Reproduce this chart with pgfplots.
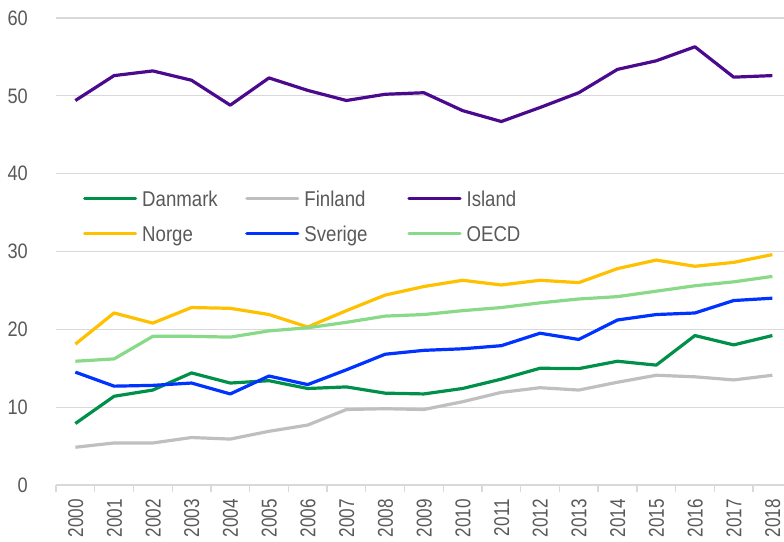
\documentclass[border=0pt]{standalone}
\usepackage{pgfplots}
\usepackage{pgfplotstable}
\pgfplotsset{compat=1.18}
\usepackage{fontspec}
\setmainfont{Liberation Sans}[FakeStretch=0.87]
\newfontfamily\xlabfont{Liberation Sans}[FakeStretch=0.8]
\definecolor{dk}{HTML}{00904A}
\definecolor{fi}{HTML}{BFBFBF}
\definecolor{is}{HTML}{4B0A8E}
\definecolor{no}{HTML}{FFC000}
\definecolor{se}{HTML}{0033FF}
\definecolor{oe}{HTML}{88DA88}
\definecolor{gridc}{HTML}{D9D9D9}
\definecolor{tickc}{HTML}{595959}
\pgfplotstableread{
x Danmark Finland Island Norge Sverige OECD
0  7.9  4.85 49.4 18.1 14.5 15.9
1  11.4 5.4  52.6 22.1 12.7 16.2
2  12.2 5.4  53.2 20.8 12.8 19.1
3  14.4 6.1  52.0 22.8 13.1 19.1
4  13.1 5.9  48.8 22.7 11.7 19.0
5  13.4 6.9  52.3 21.9 14.0 19.8
6  12.4 7.7  50.7 20.3 12.9 20.2
7  12.6 9.7  49.4 22.4 14.8 20.9
8  11.8 9.8  50.2 24.4 16.8 21.7
9  11.7 9.7  50.4 25.5 17.3 21.9
10 12.4 10.7 48.1 26.3 17.5 22.4
11 13.6 11.9 46.7 25.7 17.9 22.8
12 15.0 12.5 48.5 26.3 19.5 23.4
13 14.95 12.2 50.4 26.0 18.7 23.9
14 15.9 13.2 53.4 27.8 21.2 24.2
15 15.4 14.1 54.5 28.9 21.9 24.9
16 19.2 13.9 56.3 28.1 22.1 25.6
17 18.0 13.5 52.4 28.6 23.7 26.1
18 19.2 14.1 52.6 29.6 24.0 26.8
}\datatab
\begin{document}
\begin{tikzpicture}
\useasboundingbox (0,0) rectangle (784bp,542bp);
\clip (0,0) rectangle (784bp,542bp);
\begin{axis}[
  at={(56bp,57bp)}, anchor=south west,
  scale only axis, width=728bp, height=467bp,
  xmin=-0.5, xmax=18.3, ymin=0, ymax=60,
  ytick={0,10,...,60},
  ymajorgrids, grid style={draw=gridc, line width=1.3bp},
  xtick={0,...,18},
  xticklabels={2000,2001,2002,2003,2004,2005,2006,2007,2008,2009,2010,2011,2012,2013,2014,2015,2016,2017,2018},
  minor xtick={-0.5,0.5,...,17.5},
  axis x line*=bottom, axis y line*=left,
  y axis line style={draw=none},
  x axis line style={draw=gridc, line width=1.3bp, -},
  tick align=outside, major tick length=0pt, minor tick length=7bp,
  minor x tick style={draw=gridc, line width=1.3bp},
  y tick style={draw=none},
  xticklabel style={rotate=90, anchor=east, inner sep=0pt, text height=15.4bp, text depth=0pt, font=\xlabfont\fontsize{21.5}{26}\selectfont, text=tickc},
  xticklabel shift=14bp,
  yticklabel style={anchor=east, inner sep=0pt, font=\fontsize{21}{25}\selectfont, text=tickc},
  yticklabel shift=28bp,
  /pgf/number format/assume math mode=true,
  legend columns=3,
  legend style={draw=none, fill=none, at={(0.0371,0.6277)}, anchor=north west,
    inner sep=0pt, outer sep=0pt, column sep=0pt, row sep=15bp,
    font=\fontsize{21.5}{25}\selectfont,
    nodes={inner sep=0pt, text width=103bp, text height=15bp, text depth=5bp, align=left, text=tickc}},
  /tikz/every odd column/.append style={column sep=5bp},
  legend image code/.code={\draw[#1, line cap=round] (1.5bp,3bp) -- (52.5bp,3bp);},
  every axis plot/.append style={line width=3.2bp, line join=round, mark=none},
]
\addplot[dk] table[x=x,y=Danmark] {\datatab};
\addlegendentry{Danmark}
\addplot[fi] table[x=x,y=Finland] {\datatab};
\addlegendentry{Finland}
\addplot[is] table[x=x,y=Island] {\datatab};
\addlegendentry{Island}
\addplot[no] table[x=x,y=Norge] {\datatab};
\addlegendentry{Norge}
\addplot[se] table[x=x,y=Sverige] {\datatab};
\addlegendentry{Sverige}
\addplot[oe] table[x=x,y=OECD] {\datatab};
\addlegendentry{OECD}
\end{axis}
\end{tikzpicture}
\end{document}
